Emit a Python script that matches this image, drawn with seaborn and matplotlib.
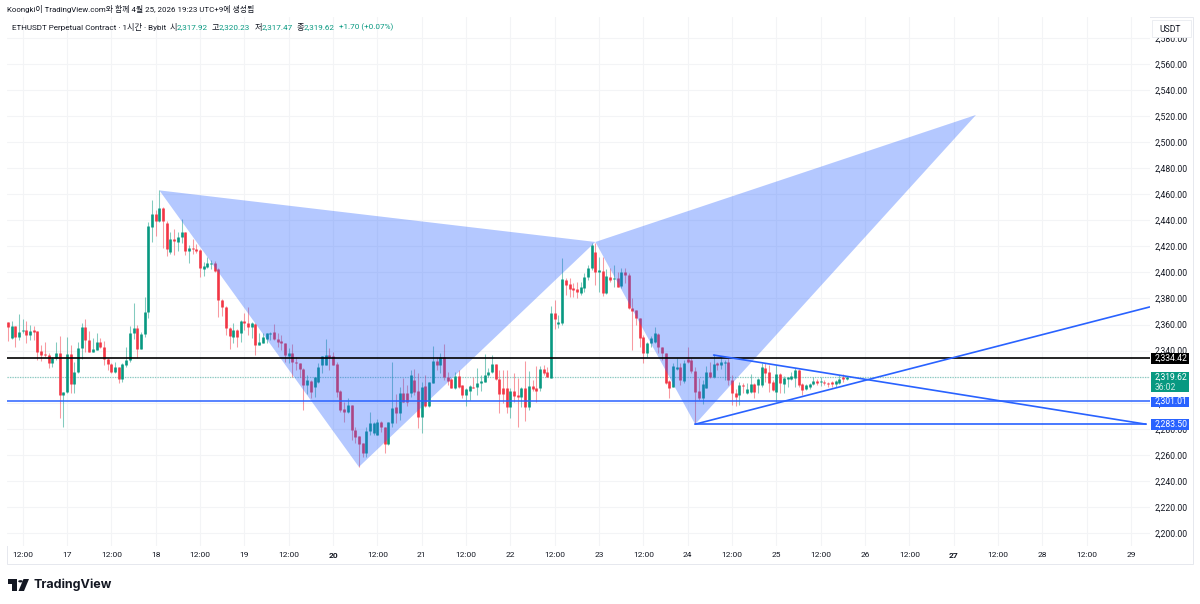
import matplotlib
matplotlib.use('Agg')
import matplotlib.pyplot as plt
from matplotlib.patches import Polygon, Rectangle, Circle
import pandas as pd
import seaborn as sns

# Velas de 1 hora, ETHUSDT (la hora 0 es el 17 de abril 00:00)
opens = [2361.7, 2349.4, 2358.9, 2350.2, 2355.0, 2355.8, 2352.0, 2355.6, 2354.8, 2340.0,
         2337.4, 2336.7, 2330.3, 2334.1, 2338.4, 2306.0, 2308.0, 2337.4, 2314.4, 2323.9,
         2342.0, 2358.4, 2348.2, 2339.2, 2340.5, 2346.4, 2343.0, 2333.3, 2329.7, 2323.3,
         2327.2, 2318.0, 2328.7, 2332.8, 2353.3, 2357.1, 2341.3, 2352.8, 2369.9, 2435.2,
         2444.6, 2439.8, 2449.5, 2438.2, 2416.0, 2425.4, 2423.4, 2427.0, 2431.3, 2416.2,
         2418.8, 2418.3, 2417.3, 2402.7, 2404.5, 2406.8, 2407.5, 2402.4, 2378.9, 2373.8,
         2357.6, 2350.7, 2355.8, 2353.3, 2363.0, 2361.5, 2357.9, 2360.5, 2344.3, 2346.1,
         2349.2, 2352.8, 2354.3, 2348.9, 2347.4, 2345.6, 2336.1, 2337.9, 2331.5, 2330.8,
         2325.6, 2313.6, 2316.9, 2312.3, 2316.2, 2329.0, 2329.0, 2336.6, 2335.9, 2329.5,
         2309.3, 2294.9, 2293.1, 2298.2, 2279.0, 2274.4, 2268.8, 2261.6, 2278.3, 2276.5,
         2275.2, 2285.5, 2281.6, 2268.3, 2284.2, 2296.5, 2292.4, 2307.2, 2307.2, 2307.2,
         2317.4, 2309.0, 2288.8, 2312.8, 2297.5, 2315.4, 2332.3, 2329.0, 2335.4, 2319.5,
         2318.0, 2311.0, 2320.5, 2313.6, 2305.9, 2309.3, 2312.3, 2311.8, 2314.9, 2316.2,
         2321.3, 2323.8, 2329.5, 2318.0, 2311.0, 2311.0, 2296.5, 2308.7, 2305.9, 2304.1,
         2311.0, 2297.0, 2312.8, 2311.0, 2311.0, 2325.6, 2323.8, 2319.2, 2368.6, 2360.4,
         2361.0, 2394.2, 2391.2, 2387.8, 2387.1, 2384.5, 2387.8, 2396.3, 2403.2, 2416.0,
         2400.6, 2401.4, 2384.0, 2396.8, 2394.7, 2395.5, 2389.6, 2400.6, 2398.0, 2372.5,
         2371.2, 2364.8, 2350.2, 2338.4, 2346.1, 2346.9, 2352.8, 2343.0, 2337.9, 2316.9,
         2312.3, 2325.9, 2327.7, 2316.9, 2333.3, 2332.8, 2324.6, 2308.7, 2303.4, 2311.6,
         2323.8, 2319.5, 2330.7, 2329.0, 2330.7, 2331.5, 2317.4, 2307.2, 2305.9, 2313.6,
         2307.2, 2308.0, 2314.1, 2313.6, 2313.6, 2326.4, 2323.8, 2316.2, 2308.5, 2322.1,
         2314.4, 2317.9, 2318.2, 2318.7, 2325.1, 2314.1, 2310.3, 2311.8, 2314.4, 2316.9,
         2316.2, 2316.2, 2315.4, 2315.7, 2314.4, 2314.9, 2320.0, 2317.92]
highs = [2362.2, 2362.8, 2359.2, 2368.1, 2364.0, 2363.0, 2359.9, 2358.9, 2355.3, 2344.3,
         2346.4, 2338.4, 2335.4, 2346.9, 2351.2, 2308.2, 2350.2, 2344.3, 2331.5, 2346.9,
         2361.5, 2364.3, 2355.3, 2349.4, 2353.3, 2349.4, 2347.7, 2334.1, 2330.3, 2331.5,
         2327.7, 2330.3, 2342.5, 2359.2, 2376.3, 2359.7, 2354.6, 2381.4, 2439.0, 2455.6,
         2448.0, 2463.3, 2450.0, 2439.8, 2431.3, 2433.1, 2431.3, 2440.8, 2431.3, 2421.1,
         2425.4, 2421.9, 2417.8, 2408.3, 2411.6, 2409.6, 2408.8, 2403.2, 2379.4, 2374.3,
         2358.4, 2361.0, 2356.4, 2363.5, 2368.6, 2373.2, 2362.2, 2361.0, 2353.3, 2353.3,
         2353.3, 2354.6, 2360.2, 2353.3, 2352.0, 2345.6, 2341.8, 2344.8, 2335.4, 2330.8,
         2326.4, 2321.3, 2317.4, 2320.0, 2330.2, 2335.9, 2348.7, 2341.8, 2339.2, 2331.5,
         2309.8, 2300.8, 2303.4, 2298.2, 2281.6, 2274.4, 2269.3, 2281.6, 2293.1, 2285.5,
         2287.2, 2286.0, 2281.6, 2285.5, 2331.5, 2306.7, 2312.3, 2318.7, 2313.6, 2325.1,
         2325.6, 2322.6, 2316.2, 2321.3, 2316.2, 2343.5, 2335.4, 2338.4, 2345.1, 2323.8,
         2318.7, 2323.8, 2325.1, 2313.6, 2311.0, 2313.6, 2319.5, 2326.4, 2321.3, 2337.4,
         2326.4, 2336.6, 2329.7, 2325.1, 2325.1, 2325.1, 2311.0, 2323.1, 2318.7, 2312.3,
         2332.3, 2324.6, 2317.4, 2328.2, 2328.2, 2329.0, 2327.7, 2374.3, 2378.9, 2367.3,
         2410.8, 2395.5, 2395.5, 2391.7, 2392.9, 2392.9, 2399.3, 2405.7, 2422.9, 2422.4,
         2412.1, 2411.6, 2402.4, 2403.2, 2405.7, 2400.6, 2403.2, 2403.2, 2399.3, 2380.1,
         2371.2, 2364.8, 2352.0, 2346.9, 2351.2, 2357.9, 2353.3, 2343.0, 2338.4, 2317.4,
         2330.2, 2334.1, 2330.2, 2332.8, 2342.5, 2334.1, 2327.7, 2318.7, 2317.4, 2328.2,
         2331.5, 2337.4, 2331.5, 2335.4, 2332.8, 2334.1, 2321.3, 2310.3, 2316.2, 2314.9,
         2314.9, 2322.1, 2314.9, 2318.7, 2330.7, 2330.2, 2329.0, 2317.4, 2329.0, 2322.6,
         2320.8, 2320.0, 2323.8, 2326.4, 2325.6, 2314.9, 2314.4, 2314.9, 2319.5, 2318.0,
         2320.0, 2317.4, 2316.2, 2316.9, 2317.4, 2321.3, 2322.1, 2320.23]
lows = [2347.4, 2348.7, 2342.5, 2348.2, 2353.3, 2345.6, 2348.2, 2348.2, 2332.8, 2332.0,
        2335.4, 2326.4, 2327.7, 2332.8, 2288.0, 2281.1, 2307.2, 2307.2, 2307.7, 2322.6,
        2333.6, 2339.2, 2339.2, 2338.7, 2340.5, 2341.8, 2329.0, 2325.1, 2323.1, 2322.6,
        2314.9, 2316.2, 2327.7, 2331.5, 2348.7, 2334.1, 2341.3, 2350.7, 2364.8, 2423.7,
        2428.0, 2439.0, 2418.5, 2412.7, 2414.2, 2413.4, 2416.7, 2422.4, 2413.4, 2407.0,
        2414.2, 2415.2, 2396.8, 2397.3, 2403.2, 2402.4, 2400.6, 2365.6, 2366.6, 2352.0,
        2341.0, 2345.6, 2343.0, 2346.9, 2355.8, 2352.0, 2349.4, 2336.7, 2344.3, 2345.6,
        2345.6, 2348.2, 2348.2, 2343.0, 2340.5, 2331.5, 2330.3, 2320.0, 2325.1, 2320.0,
        2294.4, 2306.7, 2303.4, 2304.6, 2314.9, 2322.6, 2329.0, 2325.1, 2329.0, 2304.6,
        2293.1, 2285.5, 2291.8, 2271.4, 2269.3, 2250.9, 2258.1, 2258.6, 2275.2, 2275.2,
        2275.2, 2277.8, 2261.1, 2267.5, 2281.1, 2284.2, 2286.7, 2300.8, 2297.5, 2304.1,
        2305.9, 2280.3, 2277.0, 2296.5, 2296.5, 2314.9, 2325.1, 2322.6, 2317.4, 2313.6,
        2311.0, 2310.3, 2311.0, 2303.4, 2297.5, 2302.1, 2311.0, 2305.9, 2309.3, 2316.2,
        2320.0, 2323.1, 2317.4, 2292.4, 2299.5, 2291.8, 2288.0, 2300.8, 2281.1, 2296.5,
        2286.2, 2294.4, 2309.3, 2300.8, 2309.3, 2321.3, 2319.5, 2318.7, 2356.3, 2357.1,
        2359.7, 2382.7, 2381.4, 2381.4, 2380.1, 2382.7, 2385.3, 2394.2, 2401.9, 2390.4,
        2385.3, 2381.9, 2383.5, 2392.9, 2389.1, 2388.6, 2387.8, 2392.2, 2371.7, 2340.5,
        2359.7, 2343.0, 2330.2, 2335.4, 2343.0, 2345.6, 2337.9, 2332.8, 2314.4, 2303.4,
        2312.3, 2325.1, 2313.6, 2314.9, 2330.2, 2322.6, 2284.2, 2302.1, 2299.0, 2311.0,
        2318.7, 2318.7, 2325.1, 2325.6, 2317.4, 2313.6, 2298.3, 2297.5, 2298.3, 2307.2,
        2306.7, 2307.2, 2303.4, 2307.2, 2312.3, 2316.2, 2308.5, 2309.3, 2300.8, 2307.2,
        2307.2, 2312.3, 2317.4, 2312.3, 2312.3, 2305.9, 2309.8, 2310.3, 2313.6, 2313.6,
        2312.8, 2313.6, 2312.3, 2312.3, 2312.3, 2314.4, 2316.2, 2317.47]
closes = [2358.4, 2359.2, 2350.2, 2354.6, 2355.8, 2352.3, 2355.3, 2354.3, 2339.2, 2336.7,
          2336.4, 2330.8, 2334.1, 2338.4, 2306.0, 2308.2, 2337.4, 2314.4, 2323.9, 2342.0,
          2358.4, 2348.2, 2339.2, 2341.0, 2346.9, 2343.0, 2333.3, 2329.7, 2323.6, 2327.2,
          2318.0, 2329.7, 2332.8, 2353.3, 2357.1, 2341.3, 2352.8, 2369.9, 2435.7, 2444.6,
          2439.8, 2449.2, 2439.8, 2417.8, 2425.4, 2423.9, 2427.5, 2431.3, 2416.5, 2418.8,
          2417.8, 2416.5, 2403.2, 2405.2, 2407.0, 2407.5, 2401.4, 2378.9, 2373.8, 2357.1,
          2351.2, 2355.8, 2350.7, 2363.0, 2361.5, 2358.4, 2361.0, 2344.3, 2346.4, 2350.7,
          2353.3, 2353.8, 2348.7, 2346.9, 2345.6, 2336.7, 2338.4, 2331.0, 2330.8, 2325.6,
          2313.6, 2317.4, 2308.5, 2319.5, 2327.7, 2335.9, 2336.6, 2335.4, 2329.0, 2308.5,
          2294.4, 2293.1, 2298.2, 2279.0, 2273.9, 2268.3, 2261.6, 2278.5, 2284.7, 2284.7,
          2285.5, 2281.1, 2268.3, 2285.0, 2295.7, 2292.4, 2307.2, 2300.8, 2300.8, 2321.3,
          2308.5, 2289.3, 2312.3, 2297.5, 2315.9, 2332.3, 2329.0, 2335.4, 2319.5, 2316.9,
          2311.0, 2320.5, 2312.3, 2305.9, 2310.3, 2313.1, 2311.0, 2315.4, 2316.9, 2321.3,
          2323.8, 2329.7, 2318.0, 2306.7, 2306.7, 2297.0, 2309.0, 2305.2, 2304.1, 2311.0,
          2297.0, 2312.8, 2310.5, 2309.3, 2325.6, 2323.1, 2320.0, 2368.6, 2364.0, 2362.2,
          2394.7, 2390.4, 2387.1, 2386.5, 2385.3, 2388.6, 2396.8, 2403.2, 2421.1, 2400.6,
          2401.9, 2384.0, 2397.3, 2394.2, 2395.5, 2389.1, 2400.6, 2398.0, 2372.5, 2370.7,
          2364.8, 2349.4, 2338.4, 2346.1, 2349.4, 2353.3, 2342.5, 2337.9, 2314.9, 2311.0,
          2328.2, 2327.2, 2317.4, 2330.2, 2331.3, 2324.6, 2308.5, 2303.4, 2314.4, 2323.8,
          2319.5, 2329.7, 2329.0, 2331.5, 2331.5, 2317.4, 2307.2, 2304.6, 2313.6, 2312.8,
          2310.3, 2314.4, 2308.0, 2318.0, 2327.2, 2323.1, 2315.4, 2309.8, 2322.1, 2314.9,
          2318.7, 2319.5, 2320.5, 2325.1, 2313.6, 2309.8, 2313.6, 2314.4, 2316.9, 2314.9,
          2316.9, 2314.9, 2314.1, 2314.4, 2316.7, 2318.2, 2318.2, 2319.62]
first_hour = -16

# Dibujos sobre el grafico
pattern_hours = [25, 79, 143, 170, 246]
pattern_prices = [2463.0, 2250.7, 2423.4, 2283.5, 2520.9]
falling_hours = [175, 292]
falling_prices = [2336.6, 2283.5]
rising_hours = [170, 293]
rising_prices = [2283.5, 2373.5]
flat_hours = [170, 292]
flat_prices = [2283.5, 2283.5]
black_level = 2334.42
blue_level = 2301.01
low_level = 2283.50
last_price = 2319.62
countdown = '36:02'

# Ejes
price_ticks = list(range(2200, 2600, 20))
hour_ticks = list(range(-12, 300, 12))
hour_labels = ['12:00', '17', '12:00', '18', '12:00', '19', '12:00', '20', '12:00', '21',
               '12:00', '22', '12:00', '23', '12:00', '24', '12:00', '25', '12:00', '26',
               '12:00', '27', '12:00', '28', '12:00', '29']
bold_labels = ['20', '27']

# Encabezado
credit = 'Koongki이 TradingView.com와 함께 4월 25, 2026 19:23 UTC+9에 생성됨'
symbol = 'ETHUSDT Perpetual Contract · 1시간 · Bybit'
ohlc_names = ['시', '고', '저', '종']
ohlc_values = ['2,317.92', '2,320.23', '2,317.47', '2,319.62']
change = '+1.70 (+0.07%)'

GREEN = '#089981'
RED = '#f23645'
BLUE = '#2962ff'
INK = '#131722'
FONT = ['Roboto', 'Noto Sans CJK KR']
SMALL = 6.2

sns.set_theme(style='white')
plt.rcParams['font.family'] = FONT

# Se arma el df en formato largo para lineplot
wick_rows = []
body_rows = []
for i in range(len(opens)):
    hour = first_hour + i
    up = 'up' if closes[i] >= opens[i] else 'down'
    wick_rows.append({'hour': hour, 'price': lows[i], 'candle': i, 'dir': up})
    wick_rows.append({'hour': hour, 'price': highs[i], 'candle': i, 'dir': up})
    body_rows.append({'hour': hour, 'price': opens[i], 'candle': i, 'dir': up})
    body_rows.append({'hour': hour, 'price': closes[i], 'candle': i, 'dir': up})
wicks = pd.DataFrame(wick_rows)
bodies = pd.DataFrame(body_rows)
candle_colors = {'up': GREEN, 'down': RED}

fig = plt.figure(figsize=(12, 6.04), dpi=100, facecolor='white')
ax = fig.add_axes([7 / 1200, 1 - 546 / 604, (1150 - 7) / 1200, (546 - 17) / 604])
ax.set_facecolor('white')

# Velas
sns.lineplot(data=wicks, x='hour', y='price', units='candle', hue='dir', palette=candle_colors,
             estimator=None, sort=False, legend=False, linewidth=0.75, alpha=0.5,
             solid_capstyle='butt', zorder=2, ax=ax)
sns.lineplot(data=bodies, x='hour', y='price', units='candle', hue='dir', palette=candle_colors,
             estimator=None, sort=False, legend=False, linewidth=1.9,
             solid_capstyle='butt', zorder=2.1, ax=ax)

# Triangulos del patron
ax.fill(pattern_hours[:3], pattern_prices[:3], color=BLUE, alpha=0.35, lw=0, zorder=3)
ax.fill(pattern_hours[2:], pattern_prices[2:], color=BLUE, alpha=0.35, lw=0, zorder=3)

# Niveles y lineas
ax.axhline(last_price, color=GREEN, lw=0.9, ls=(0, (1, 1)), alpha=0.45, zorder=1.8)
ax.axhline(black_level, color='black', lw=1.2, zorder=4)
ax.axhline(blue_level, color=BLUE, lw=1.1, zorder=4)
for xs, ys in [(falling_hours, falling_prices), (rising_hours, rising_prices),
               (flat_hours, flat_prices)]:
    sns.lineplot(x=xs, y=ys, color=BLUE, linewidth=1.2, estimator=None, sort=False,
                 solid_capstyle='round', zorder=4, ax=ax)

ax.set_xlim(-16.24, 293.1)
ax.set_ylim(2190.0, 2596.1)
ax.set_xlabel('')
ax.set_ylabel('')
for spine in ax.spines.values():
    spine.set_visible(False)

# Cuadricula y marcas
ax.set_xticks(hour_ticks)
ax.set_xticklabels(hour_labels)
ax.set_yticks(price_ticks)
ax.set_yticklabels(['{:,.2f}'.format(p) for p in price_ticks])
ax.yaxis.tick_right()
ax.grid(True, color='#f3f4f6', lw=0.8, zorder=0)
ax.set_axisbelow(True)
ax.tick_params(axis='x', length=0, pad=4, labelsize=6, colors=INK)
ax.tick_params(axis='y', length=0, pad=3.5, labelsize=SMALL, colors=INK)
for label in ax.get_xticklabels():
    label.set_fontfamily(FONT)
    if label.get_text() in bold_labels:
        label.set_fontweight('bold')


# Pasa de pixeles de la imagen a fraccion de figura
def px(x, y):
    return x / 1200, 1 - y / 604


# Marco exterior
x0, y0 = px(7, 564)
fig.add_artist(Rectangle((x0, y0), (1193 - 7) / 1200, (564 - 17) / 604, fill=False,
                         ec='#e6e8ee', lw=0.7, zorder=0))

# Etiqueta de moneda
usdt_x, usdt_y = px(1152, 37)
fig.add_artist(Rectangle((usdt_x, usdt_y), 39 / 1200, 17 / 604, fc='white', ec='#eceef2',
                         lw=0.7, zorder=5))
fig.text(*px(1159, 29), 'USDT', fontsize=SMALL, color=INK, va='center', zorder=6)


# Etiquetas de precio a la derecha
def price_tag(price, color, top, bottom):
    ax_y = ax.transData.transform((0, price))[1] / fig.bbox.height
    x, y = px(1151, bottom)
    fig.add_artist(Rectangle((x, y), 38 / 1200, (bottom - top) / 604, fc=color, ec='none', zorder=5))
    fig.text(1155 / 1200, ax_y, '{:,.2f}'.format(price), fontsize=SMALL, color='white',
             ha='left', va='center', zorder=6)


price_tag(black_level, 'black', 353, 364)
price_tag(low_level, BLUE, 419, 430)
price_tag(blue_level, BLUE, 397, 407)
x, y = px(1151, 392)
fig.add_artist(Rectangle((x, y), 38 / 1200, 20 / 604, fc=GREEN, ec='none', zorder=5))
fig.text(*px(1155, 377.5), '{:,.2f}'.format(last_price), fontsize=SMALL, color='white',
         va='center', zorder=6)
fig.text(*px(1155, 387), countdown, fontsize=SMALL, color='#cdeae4', va='center', zorder=6)

# Encabezado
fig.text(*px(7, 9), credit, fontsize=5.7, color=INK, va='center')
fig.text(*px(12, 27), symbol, fontsize=5.9, color=INK, va='center')
for name, value, x_name in zip(ohlc_names, ohlc_values, [170, 212, 255, 297]):
    fig.text(*px(x_name, 27), name, fontsize=5.9, color=INK, va='center')
    fig.text(*px(x_name + 7, 27), value, fontsize=5.9, color=GREEN, va='center')
fig.text(*px(339, 27), change, fontsize=5.9, color=GREEN, va='center')

# Logo
fig.add_artist(Polygon([px(8, 579), px(17, 579), px(17, 591), px(12, 591), px(12, 584), px(8, 584)],
                       fc=INK, ec='none'))
fig.add_artist(Polygon([px(23.5, 579), px(29, 579), px(24, 591), px(18.5, 591)], fc=INK, ec='none'))
fig.add_artist(Circle(px(20.5, 581.3), 2.3 / 1200, fc=INK, ec='none'))
fig.text(*px(33, 585), 'TradingView', fontsize=9.0, color=INK, va='center', fontfamily='Inter',
         fontweight='bold')

fig.savefig('out.png', dpi=100)
